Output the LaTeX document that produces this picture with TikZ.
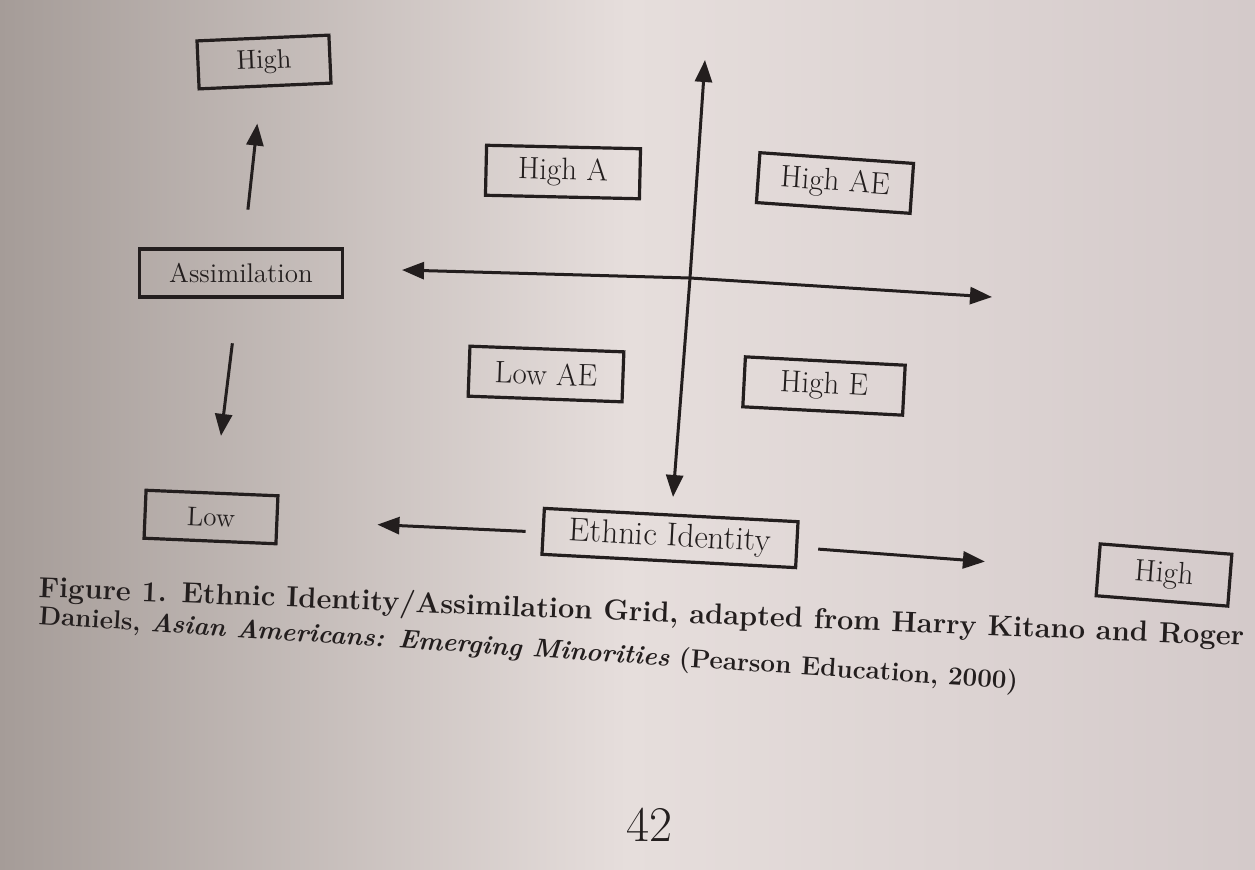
\documentclass[tikz,border=0pt]{standalone}
\usepackage{fontspec}
\usepackage{tikz}
\usetikzlibrary{arrows.meta}
\definecolor{ink}{RGB}{35,30,30}
\definecolor{paperdark}{RGB}{165,156,152}
\definecolor{paperlight}{RGB}{230,222,220}
\definecolor{paperright}{RGB}{212,202,202}
\tikzset{
  >={Triangle[length=11pt,width=8.5pt]},
  sidebox/.style={draw=ink, line width=1.6pt, text=ink, font=\fontsize{13.5}{16}\selectfont,
    minimum width=66pt, minimum height=24pt, inner xsep=15pt},
  cellbox/.style={draw=ink, line width=1.6pt, text=ink, font=\fontsize{15.5}{18}\selectfont,
    minimum width=77pt, minimum height=25pt},
  pointer/.style={draw=ink, line width=1.5pt, ->},
  caption/.style={text=ink, anchor=base west, inner sep=0pt, font=\fontsize{14.5}{17}\selectfont\bfseries}
}

\begin{document}
\begin{tikzpicture}[x=0.5pt,y=0.5pt,yscale=-1,xscale=1]
%Shape: page
\shade[left color=paperdark, right color=paperright, middle color=paperlight] (0,0) rectangle (1255,869);
\useasboundingbox (0,0) rectangle (1255,869);

% Assimilation scale
\node[sidebox, rotate=2.5] (ahigh) at (264,62) {High};
\node[sidebox] (assim) at (241,273) {Assimilation};
\node[sidebox, rotate=-2.4] (alow) at (211,517) {Low};

% Ethnic identity scale
\node[cellbox, font=\fontsize{16.5}{20}\selectfont, minimum width=127pt, minimum height=23pt, rotate=-3] (ethnic) at (670,538) {Ethnic Identity};
\node[sidebox, font=\fontsize{15.5}{18}\selectfont, minimum height=26pt, rotate=-4.5] (ehigh) at (1164,575) {High};

% Quadrants
\node[cellbox, rotate=-1.3] (higha) at (563,172) {High A};
\node[cellbox, rotate=-4] (highae) at (835,183) {High AE};
\node[cellbox, rotate=-2.1] (lowae) at (546,374) {Low AE};
\node[cellbox, rotate=-3, minimum width=80pt] (highe) at (824,386) {High E};

% Axes
\coordinate (ytop) at (705,60);
\coordinate (ybot) at (673,497);
\coordinate (xleft) at (402,270);
\coordinate (xright) at (992,297);
\coordinate (origin) at (690,278);
\draw[pointer, <->] (ybot) -- (origin) -- (ytop);
\draw[pointer, <->] (xleft) -- (origin) -- (xright);

% Arrows from the labels
\draw[pointer, shorten <=19pt, shorten >=18pt] (assim) -- (ahigh);
\draw[pointer, shorten <=22.5pt, shorten >=28pt] (assim) -- (alow);
\draw[pointer, shorten <=8pt, shorten >=49.5pt] (ethnic) -- (alow);
\draw[pointer, shorten <=10pt, shorten >=56pt] (ethnic) -- (ehigh);

% Caption
\node[caption, rotate=-2.3] (cap1) at (38,597) {Figure 1. Ethnic Identity/Assimilation Grid, adapted from Harry Kitano and Roger};
\node[caption, font=\fontsize{13}{16}\selectfont\bfseries, rotate=-3.8] (cap2) at (38,624) {Daniels, \textit{Asian Americans: Emerging Minorities} (Pearson Education, 2000)};

% Page number
\node[text=ink, font=\fontsize{25}{30}\selectfont] (pagenum) at (649,825) {42};

\end{tikzpicture}
\end{document}
